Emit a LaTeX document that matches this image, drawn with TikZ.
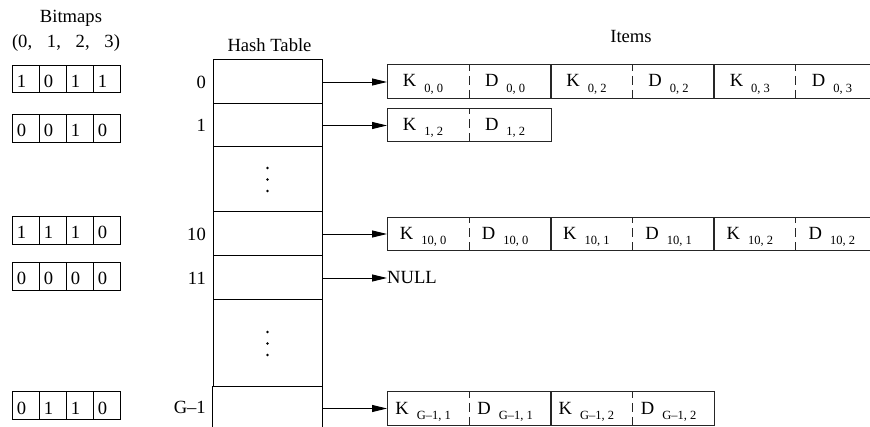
\documentclass[tikz,border=0pt]{standalone}
\usepackage{fontspec}
\setmainfont{Liberation Serif}
\usetikzlibrary{arrows.meta}

% key/data label: letter followed by a lowered, smaller index
\newcommand\kdtext[2]{#1\hspace{8pt}\raisebox{-5.5pt}{\fontsize{12.5}{12.5}\selectfont #2}\hspace*{10pt}}

% one key/data pair of an item list: #1 name suffix, #2 left x, #3 row y, #4 index
\newcommand\itempair[4]{%
  \node[itemcell, anchor=west] (k#1) at (#2,#3) {\kdtext{K}{#4}};
  \node[itemcell, anchor=west] (d#1) at (k#1.east) {\kdtext{D}{#4}};
  \draw[boxline] (k#1.north west) rectangle (d#1.south east);
  \draw[boxline, dash pattern=on 9pt off 5pt, dash phase=3pt] (k#1.north east) -- (k#1.south east);
}

\begin{document}
\begin{tikzpicture}[x=1pt, y=-1pt,
  font=\fontsize{18.6}{20}\selectfont,
  boxline/.style={line width=0.9pt, black!85},
  tabline/.style={line width=1pt, black},
  ptr/.style={line width=0.9pt, -{Triangle[length=15pt,width=7pt]}},
  itemcell/.style={minimum width=81.7pt, minimum height=33pt, inner sep=0pt,
    text height=13pt, text depth=2pt},
  bitcell/.style={draw, line width=0.9pt, minimum width=27pt, minimum height=27.5pt,
    inner sep=0pt, text height=17pt, text depth=0pt},
  slot/.style={draw, tabline, minimum width=109pt, inner sep=0pt},
  idx/.style={anchor=east, inner sep=0pt},
  dot/.style={circle, fill=black, inner sep=0pt, minimum size=2.6pt}
]
\useasboundingbox (0,0) rectangle (870,427);
\clip (0,0) rectangle (870,427);

% headings
\node (hbit) at (71,18) {Bitmaps};
\node (hpos) at (66,43) {(0,\hspace{14.8pt}1,\hspace{14.8pt}2,\hspace{14.8pt}3)};
\node (htab) at (269.5,45) {Hash Table};
\node (hitm) at (631,37) {Items};

% hash table slots
\node[slot, minimum height=44pt] (h0)  at (267.5,82)    {};
\node[slot, minimum height=43pt] (h1)  at (267.5,125.5) {};
\node[slot, minimum height=65pt] (hd1) at (267.5,179.5) {};
\node[slot, minimum height=44pt] (h10) at (267.5,234)   {};
\node[slot, minimum height=44pt] (h11) at (267.5,278)   {};
\node[slot, minimum height=87pt] (hd2) at (267.5,343.5) {};
\node[minimum width=109pt, minimum height=40pt, inner sep=0pt] (hG) at (267.5,407) {};
\draw[tabline] (hG.south west) -- (hG.north west) -- (hG.north east) -- (hG.south east);

% elided slots
\foreach \s/\n in {hd1/a, hd2/b} {
  \node[dot] (\n1) at ([yshift=-11.5pt]\s.center) {};
  \node[dot] (\n2) at (\s.center) {};
  \node[dot] (\n3) at ([yshift=11.5pt]\s.center) {};
}

% slot numbers
\node[idx] (i0)  at (206,82)    {0};
\node[idx] (i1)  at (206,125.5) {1};
\node[idx] (i10) at (206,234)   {10};
\node[idx] (i11) at (206,278)   {11};
\node[idx] (iG)  at (206,407)   {G–1};

% bitmaps
\foreach \r/\y/\bits in {b0/79/{1,0,1,1}, b1/128.5/{0,0,1,0}, b10/230.5/{1,1,1,0},
                         b11/276.5/{0,0,0,0}, bG/405.5/{0,1,1,0}} {
  \foreach \v [count=\c from 0] in \bits {
    \node[bitcell] (\r-\c) at (25.5+27*\c,\y) {\v\hspace*{8pt}};
  }
}

% item lists
\itempair{00}{387}{81.5}{0, 0}
\itempair{02}{550.4}{81.5}{0, 2}
\itempair{03}{713.8}{81.5}{0, 3}
\itempair{12}{387}{125}{1, 2}
\itempair{100}{387}{234}{10, 0}
\itempair{101}{550.4}{234}{10, 1}
\itempair{102}{713.8}{234}{10, 2}
\itempair{G1}{387}{408.5}{G–1, 1}
\itempair{G2}{550.4}{408.5}{G–1, 2}

\node[anchor=west, inner sep=0pt] (null) at (387,278) {NULL};

% pointers from the slots
\draw[ptr] (h0.east)  -- (h0.east -| k00.west);
\draw[ptr] (h1.east)  -- (h1.east -| k12.west);
\draw[ptr] (h10.east) -- (h10.east -| k100.west);
\draw[ptr] (h11.east) -- (null.west);
\draw[ptr] (hG.east |- kG1.west) -- (kG1.west);
\end{tikzpicture}
\end{document}
